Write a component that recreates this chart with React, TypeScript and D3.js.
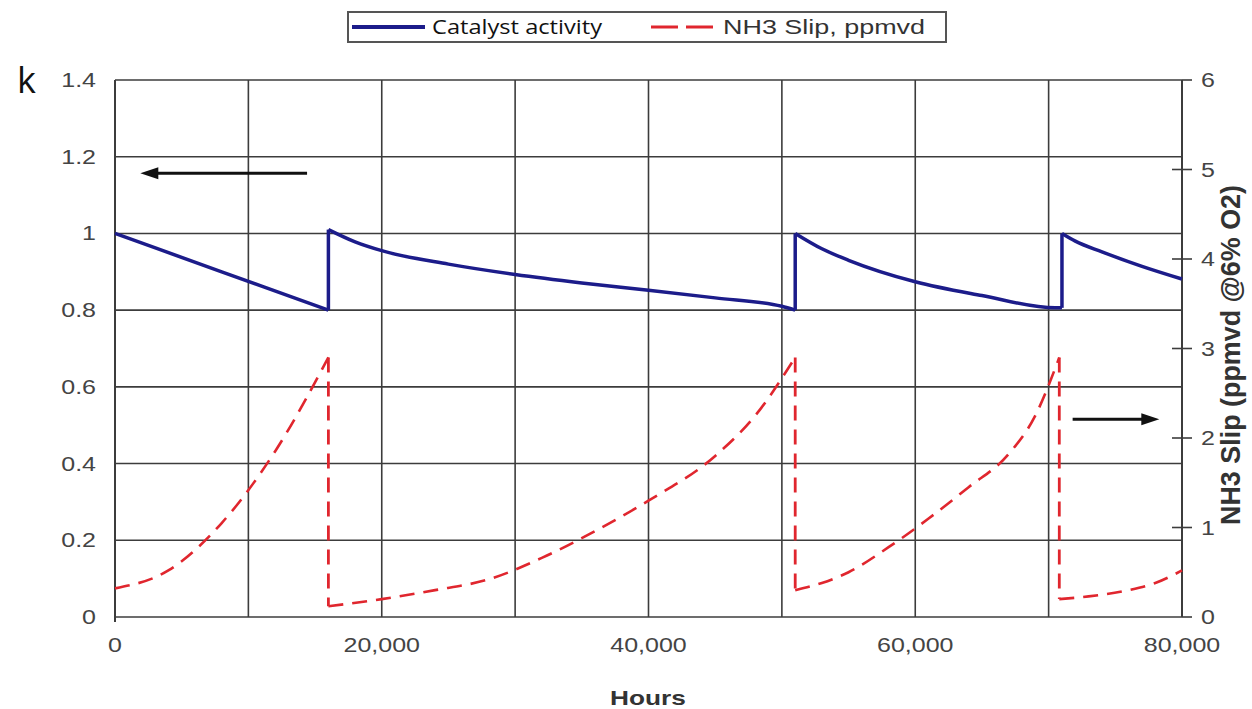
import * as d3 from 'd3'

// catalyst activity (left axis), one array per run between regenerations
const activityRun1: [number, number][] = [[0, 1.0], [8000, 0.9], [16000, 0.8]]
const activityRun2: [number, number][] = [
  [16000, 1.01], [18000, 0.978], [20000, 0.955], [25000, 0.92], [30000, 0.893],
  [35000, 0.871], [40000, 0.852], [45000, 0.832], [50000, 0.81], [51000, 0.8],
]
const activityRun3: [number, number][] = [
  [51000, 1.0], [53000, 0.96], [55000, 0.93], [60000, 0.874], [65000, 0.838],
  [70500, 0.806], [71000, 0.806],
]
const activityRun4: [number, number][] = [
  [71000, 1.0], [72000, 0.98], [74000, 0.952], [77000, 0.914], [80000, 0.881],
]

// NH3 slip, ppmvd (right axis)
const slipRun1: [number, number][] = [[0, 0.32], [4000, 0.52], [8000, 1.05], [12000, 1.85], [16000, 2.9]]
const slipRun2: [number, number][] = [
  [16000, 0.12], [20000, 0.2], [24000, 0.3], [28000, 0.42], [32000, 0.66],
  [36000, 0.96], [40000, 1.3], [45000, 1.8], [48000, 2.25], [51000, 2.9],
]
const slipRun3: [number, number][] = [
  [51000, 0.3], [53000, 0.38], [55000, 0.5], [58000, 0.78], [61000, 1.1],
  [64000, 1.45], [67000, 1.82], [69000, 2.25], [70800, 2.9],
]
const slipRun4: [number, number][] = [[70800, 0.2], [73000, 0.23], [76000, 0.3], [78000, 0.38], [80000, 0.52]]

const activityRuns = [activityRun1, activityRun2, activityRun3, activityRun4]
const slipRuns = [slipRun1, slipRun2, slipRun3, slipRun4]

const hourGrid = [0, 10000, 20000, 30000, 40000, 50000, 60000, 70000, 80000]
const hourTicks = [0, 20000, 40000, 60000, 80000]
const leftTicks = [0, 0.2, 0.4, 0.6, 0.8, 1, 1.2, 1.4]
const rightTicks = [0, 1, 2, 3, 4, 5, 6]

const W = 1252
const H = 709
const NAVY = '#1c1c8a'
const RED = '#e0262e'
const GRID = '#3c3c3c'
const LABEL = '#444'
const ARIAL = '"Liberation Sans", Arial, sans-serif'

const x = d3.scaleLinear().domain([0, 80000]).range([115, 1182])
const yL = d3.scaleLinear().domain([0, 1.4]).range([617, 80])
const yR = d3.scaleLinear().domain([0, 6]).range([617, 80])

const mkActivity = d3.line<[number, number]>().x(d => x(d[0])).y(d => yL(d[1])).curve(d3.curveMonotoneX)
const mkSlip = d3.line<[number, number]>().x(d => x(d[0])).y(d => yR(d[1])).curve(d3.curveMonotoneX)

// the vertical jumps between runs
const jumps = (runs: [number, number][][]) =>
  runs.slice(1).map((r, i) => [runs[i][runs[i].length - 1], r[0]] as [number, number][])

const Label = ({ px, py, anchor, children, size = 20, bold = false, fill = LABEL }: any) => (
  <text
    transform={`translate(${px},${py}) scale(1.25,1)`}
    textAnchor={anchor}
    fontFamily={ARIAL}
    fontSize={size}
    fontWeight={bold ? 'bold' : 'normal'}
    fill={fill}
  >
    {children}
  </text>
)

const Arrow = ({ x1, y1, x2, y2 }: any) => {
  const dir = Math.sign(x2 - x1)
  return (
    <g>
      <line x1={x1} y1={y1} x2={x2 - dir * 14} y2={y2} stroke="#111" strokeWidth={3} />
      <path d={`M${x2},${y2} L${x2 - dir * 18},${y2 - 6} L${x2 - dir * 18},${y2 + 6} Z`} fill="#111" />
    </g>
  )
}

export default function App() {
  return (
    <svg width={W} height={H} style={{ position: 'absolute', left: 0, top: 0, background: '#fff' }}>
      {/* grid */}
      {leftTicks.map(t => (
        <line key={'h' + t} x1={x(0)} x2={x(80000)} y1={yL(t)} y2={yL(t)} stroke={GRID} strokeWidth={1.6} />
      ))}
      {hourGrid.map(t => (
        <line key={'v' + t} x1={x(t)} x2={x(t)} y1={yL(1.4)} y2={yL(0)} stroke={GRID} strokeWidth={1.6} />
      ))}
      <line x1={x(0)} x2={x(0)} y1={yL(1.4)} y2={yL(0) + 5} stroke={GRID} strokeWidth={2} />
      <line x1={x(80000)} x2={x(80000)} y1={yL(1.4)} y2={yL(0)} stroke={GRID} strokeWidth={2} />
      {rightTicks.map(t => (
        <line
          key={'rt' + t}
          x1={t === 0 || t === 6 ? x(80000) : x(80000) - 10}
          x2={x(80000) + 10}
          y1={yR(t)}
          y2={yR(t)}
          stroke={GRID}
          strokeWidth={1.6}
        />
      ))}

      {/* series */}
      {activityRuns.map((r, i) => (
        <path key={'a' + i} d={mkActivity(r) || ''} fill="none" stroke={NAVY} strokeWidth={3.5} />
      ))}
      {jumps(activityRuns).map((r, i) => (
        <path key={'aj' + i} d={mkActivity(r) || ''} fill="none" stroke={NAVY} strokeWidth={3.5} />
      ))}
      {slipRuns.map((r, i) => (
        <path key={'s' + i} d={mkSlip(r) || ''} fill="none" stroke={RED} strokeWidth={2.6} strokeDasharray="15,9" />
      ))}
      {jumps(slipRuns).map((r, i) => (
        <path key={'sj' + i} d={mkSlip(r) || ''} fill="none" stroke={RED} strokeWidth={2.8} strokeDasharray="15,9" />
      ))}

      {/* annotation arrows */}
      <Arrow x1={x(14400)} y1={yL(1.157)} x2={x(1900)} y2={yL(1.157)} />
      <Arrow x1={x(71800)} y1={yR(2.21)} x2={x(78300)} y2={yR(2.21)} />

      {/* axes labels */}
      {leftTicks.map(t => (
        <Label key={'ll' + t} px={96} py={yL(t) + 7} anchor="end">{String(t)}</Label>
      ))}
      {rightTicks.map(t => (
        <Label key={'rl' + t} px={1201} py={yR(t) + 7} anchor="start">{String(t)}</Label>
      ))}
      {hourTicks.map(t => (
        <Label key={'xl' + t} px={x(t)} py={652} anchor="middle">{d3.format(',')(t)}</Label>
      ))}
      <Label px={648} py={705} anchor="middle" size={21} bold fill="#333">Hours</Label>
      <text
        transform={`translate(1240,355) rotate(-90) scale(1,1.2)`}
        textAnchor="middle"
        fontFamily={ARIAL}
        fontSize={23}
        fontWeight="bold"
        fill="#333"
        textLength={340}
        lengthAdjust="spacingAndGlyphs"
      >
        NH3 Slip (ppmvd @6% O2)
      </text>

      <text x={17} y={93} fontFamily='"Open Sans", "Noto Sans", sans-serif' fontSize={36} fill="#111">k</text>

      {/* legend */}
      <rect x={348} y={12} width={598} height={30} fill="#fff" stroke="#555" strokeWidth={2} />
      <line x1={352} x2={425} y1={27} y2={27} stroke={NAVY} strokeWidth={4} />
      <text x={432} y={34} fontFamily='"Open Sans", "Noto Sans", sans-serif' fontSize={20} fill="#111" textLength={170} lengthAdjust="spacingAndGlyphs">
        Catalyst activity
      </text>
      <line x1={651} x2={721} y1={27} y2={27} stroke={RED} strokeWidth={3} strokeDasharray="27,8" />
      <text x={723} y={34} fontFamily={ARIAL} fontSize={20} fill="#333" textLength={202} lengthAdjust="spacingAndGlyphs">
        NH3 Slip, ppmvd
      </text>
    </svg>
  )
}
